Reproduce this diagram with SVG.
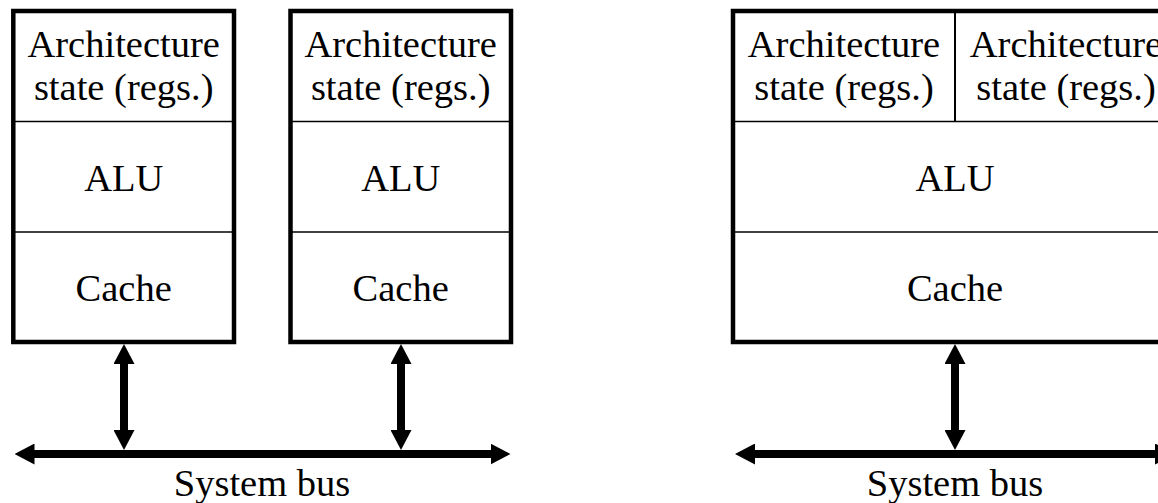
<svg xmlns="http://www.w3.org/2000/svg" width="1158" height="503" viewBox="0 0 1158 503">
<style>
.box{fill:#fff;stroke:#000;stroke-width:4.5}
.div{stroke:#000;stroke-width:1.6;fill:none}
.t{font-family:"Liberation Serif","Times New Roman",serif;font-size:38.5px;fill:#000;text-anchor:middle}
.arr{stroke:#000;stroke-width:8;fill:none;marker-start:url(#ah);marker-end:url(#ah)}
</style>
<defs>
<marker id="ah" viewBox="0 0 20 21" markerWidth="20" markerHeight="21" refX="1" refY="10.5" markerUnits="userSpaceOnUse" orient="auto-start-reverse">
<path d="M0,0 L20,10.5 L0,21 Z" fill="#000"/>
</marker>
</defs>
<rect width="1158" height="503" fill="#fff"/>
<g id="cpu1">
<rect class="box" x="13.3" y="11" width="220.7" height="331"/>
<line class="div" x1="13" y1="121.5" x2="234" y2="121.5"/>
<line class="div" x1="13" y1="232" x2="234" y2="232"/>
<text class="t" x="123.7" y="57">Architecture</text>
<text class="t" x="123.7" y="100">state (regs.)</text>
<text class="t" x="123.7" y="191">ALU</text>
<text class="t" x="123.7" y="301">Cache</text>
</g>
<g id="cpu2">
<rect class="box" x="290.5" y="11" width="220.5" height="331"/>
<line class="div" x1="290" y1="121.5" x2="511" y2="121.5"/>
<line class="div" x1="290" y1="232" x2="511" y2="232"/>
<text class="t" x="400.7" y="57">Architecture</text>
<text class="t" x="400.7" y="100">state (regs.)</text>
<text class="t" x="400.7" y="191">ALU</text>
<text class="t" x="400.7" y="301">Cache</text>
</g>
<g id="cpu3">
<rect class="box" x="733" y="11" width="444" height="331"/>
<line class="div" x1="955" y1="11" x2="955" y2="121.5" style="stroke-width:2"/>
<line class="div" x1="733" y1="121.5" x2="1177" y2="121.5"/>
<line class="div" x1="733" y1="232" x2="1177" y2="232"/>
<text class="t" x="844" y="57">Architecture</text>
<text class="t" x="844" y="100">state (regs.)</text>
<text class="t" x="1066" y="57">Architecture</text>
<text class="t" x="1066" y="100">state (regs.)</text>
<text class="t" x="955" y="191">ALU</text>
<text class="t" x="955" y="301">Cache</text>
</g>
<g id="bus-left">
<text class="t" x="262" y="496">System bus</text>
</g>
<g id="bus-right">
<text class="t" x="955" y="496">System bus</text>
</g>
<g id="connectors">
<line class="arr" x1="33.5" y1="454" x2="491.5" y2="454"/>
<line class="arr" x1="124" y1="363" x2="124" y2="431"/>
<line class="arr" x1="401" y1="363" x2="401" y2="431"/>
<line class="arr" x1="754" y1="454" x2="1156" y2="454"/>
<line class="arr" x1="955" y1="363" x2="955" y2="431"/>
</g>
</svg>
